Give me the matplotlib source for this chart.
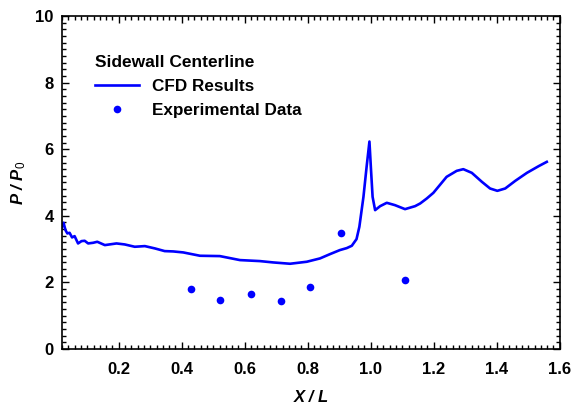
import matplotlib
matplotlib.use("Agg")
import matplotlib.pyplot as plt
from matplotlib.ticker import MultipleLocator, FormatStrFormatter

plt.rcParams['font.family'] = ['Liberation Sans', 'DejaVu Sans']
plt.rcParams['mathtext.fontset'] = 'custom'
plt.rcParams['mathtext.it'] = 'Liberation Sans:italic'
plt.rcParams['mathtext.rm'] = 'Liberation Sans'
plt.rcParams['mathtext.bf'] = 'Liberation Sans:bold'

# CFD results along the sidewall centerline
cfd_x = [0.018, 0.025, 0.031, 0.037, 0.044, 0.052, 0.060, 0.071, 0.082, 0.092,
         0.103, 0.119, 0.132, 0.156, 0.193, 0.219, 0.251, 0.283, 0.315, 0.346,
         0.373, 0.405, 0.458, 0.521, 0.585, 0.648, 0.690, 0.744, 0.797, 0.839,
         0.871, 0.902, 0.924, 0.940, 0.955, 0.964, 0.977, 0.987, 0.996, 1.001,
         1.006, 1.014, 1.030, 1.051, 1.077, 1.109, 1.141, 1.157, 1.178, 1.199,
         1.220, 1.241, 1.273, 1.294, 1.321, 1.353, 1.379, 1.402, 1.427, 1.459,
         1.496, 1.533, 1.559]
cfd_y = [3.62, 3.79, 3.57, 3.47, 3.49, 3.35, 3.39, 3.17, 3.24, 3.25,
         3.17, 3.19, 3.22, 3.12, 3.17, 3.14, 3.07, 3.09, 3.02, 2.94,
         2.93, 2.90, 2.80, 2.79, 2.67, 2.64, 2.60, 2.56, 2.62, 2.72,
         2.85, 2.97, 3.03, 3.10, 3.30, 3.67, 4.57, 5.47, 6.23, 5.38,
         4.57, 4.17, 4.29, 4.39, 4.32, 4.20, 4.29, 4.37, 4.52, 4.69,
         4.93, 5.17, 5.35, 5.40, 5.29, 5.02, 4.82, 4.75, 4.82, 5.05,
         5.29, 5.49, 5.62]

# Experimental data
exp_x = [0.428, 0.523, 0.619, 0.714, 0.807, 0.905, 1.110]
exp_y = [1.79, 1.48, 1.65, 1.43, 1.87, 3.48, 2.06]

xticks = [0.2, 0.4, 0.6, 0.8, 1.0, 1.2, 1.4, 1.6]
yticks = [0, 2, 4, 6, 8, 10]

blue = (0, 0, 1)

fig = plt.figure(figsize=(5.72, 4.08), dpi=100)
ax = fig.add_axes([62/572, 1-349/408, (559.7-62)/572, (349-16)/408])

ax.plot(cfd_x, cfd_y, color=blue, lw=1.9, label='CFD Results', solid_joinstyle='round')
ax.plot(exp_x, exp_y, 'o', color=blue, ms=5.5, mec='none', label='Experimental Data')

ax.set_xlim(0.02, 1.6)
ax.set_ylim(0, 10)
ax.set_xticks(xticks)
ax.set_yticks(yticks)
ax.xaxis.set_major_formatter(FormatStrFormatter('%.1f'))
ax.yaxis.set_major_formatter(FormatStrFormatter('%d'))
ax.xaxis.set_minor_locator(MultipleLocator(0.02))
ax.yaxis.set_minor_locator(MultipleLocator(0.2))
ax.tick_params(which='both', direction='in', top=True, right=True, width=1.0)
ax.tick_params(which='major', length=5)
ax.tick_params(which='minor', length=3)
ax.tick_params(axis='x', which='major', pad=9)
ax.tick_params(axis='y', which='major', pad=6)
for lab in ax.get_xticklabels() + ax.get_yticklabels():
    lab.set_fontsize(12)
    lab.set_fontweight('bold')
for s in ax.spines.values():
    s.set_linewidth(1.2)

ax.set_xlabel('X / L', fontsize=12, fontweight='bold', fontstyle='italic', labelpad=10)
ax.set_ylabel(r'P / P$_{\mathit{0}}$', fontsize=12, fontweight='bold', fontstyle='italic', labelpad=5)

leg = ax.legend(loc='upper left', bbox_to_anchor=(0.052, 0.902), frameon=False,
                title='Sidewall Centerline', handlelength=2.6, handletextpad=0.75,
                labelspacing=0.5, borderaxespad=0,
                prop={'size': 12.3, 'weight': 'bold'},
                title_fontproperties={'size': 12.5, 'weight': 'bold'})
leg._legend_box.align = 'left'

fig.savefig('out.png', dpi=100)
